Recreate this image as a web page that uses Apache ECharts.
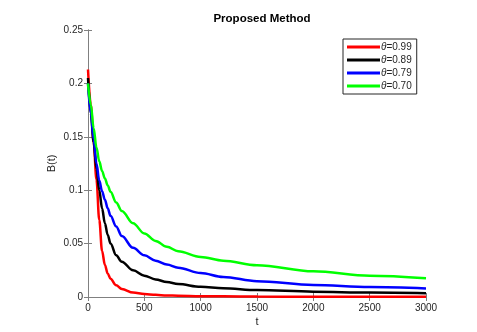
<!DOCTYPE html>
<html>
<head>
<meta charset="utf-8">
<script src="https://cdn.jsdelivr.net/npm/echarts@6/dist/echarts.min.js"></script>
<style>
  html, body { margin: 0; padding: 0; background: #fff; }
  #main { width: 477px; height: 332px; }
</style>
</head>
<body>
<div id="main"></div>
<script>
// sample times (t)
var tValues = [0, 25, 50, 75, 100, 125, 150, 175, 200, 250, 300, 400, 500, 600, 700, 800, 1000, 1200, 1500, 2000, 2500, 3000];

// B(t) per theta
var b099 = [0.213, 0.18, 0.145, 0.11, 0.072, 0.043, 0.03, 0.022, 0.017, 0.011, 0.0075, 0.0042, 0.0028, 0.002, 0.0015, 0.0012, 0.0008, 0.0006, 0.0004, 0.0003, 0.0002, 0.0002];
var b089 = [0.205, 0.172, 0.145, 0.12, 0.1, 0.083, 0.069, 0.058, 0.05, 0.039, 0.033, 0.025, 0.02, 0.0165, 0.014, 0.0122, 0.0095, 0.0082, 0.0065, 0.005, 0.0041, 0.0035];
var b079 = [0.2, 0.172, 0.148, 0.125, 0.109, 0.099, 0.091, 0.083, 0.076, 0.066, 0.057, 0.046, 0.039, 0.034, 0.0305, 0.0275, 0.0225, 0.0188, 0.0148, 0.0113, 0.0093, 0.008];
var b070 = [0.2, 0.18, 0.158, 0.14, 0.127, 0.118, 0.111, 0.1045, 0.0985, 0.0885, 0.0805, 0.069, 0.0595, 0.0525, 0.047, 0.0428, 0.0375, 0.034, 0.0298, 0.024, 0.0198, 0.0175];

var names = ['0.99', '0.89', '0.79', '0.70'];
var colors = ['#ff0000', '#000000', '#0000ff', '#00ff00'];
var xTicks = [0, 500, 1000, 1500, 2000, 2500, 3000];
var yTicks = [0, 0.05, 0.1, 0.15, 0.2, 0.25];

function pairs(vals) {
  return tValues.map(function (t, i) { return [t, vals[i]]; });
}

var myChart = echarts.init(document.getElementById('main'));
var fontFam = 'Liberation Sans, Arial, sans-serif';
var boxAxis = { lineStyle: { color: '#808080', width: 1 } };
var tickIn = { inside: true, length: 4, lineStyle: { color: '#808080' } };

myChart.setOption({
  animation: false,
  backgroundColor: '#fff',
  title: {
    text: 'Proposed Method',
    left: 257, top: 8, textAlign: 'center',
    textStyle: { fontFamily: fontFam, fontSize: 11.5, fontWeight: 'bold', color: '#000' }
  },
  grid: { left: 88, right: 51, top: 30, bottom: 35 },
  legend: {
    orient: 'vertical',
    left: 343, top: 39,
    itemWidth: 33, itemHeight: 3, itemGap: 3,
    icon: 'rect',
    borderColor: '#262626', borderWidth: 1,
    backgroundColor: '#fff',
    padding: [3, 5, 3, 4],
    textStyle: {
      fontFamily: fontFam, fontSize: 10, color: '#262626', padding: [0, 0, 0, -4],
      rich: { i: { fontStyle: 'italic', fontFamily: fontFam, fontSize: 10, color: '#262626' } }
    },
    formatter: function (n) { return '{i|θ}=' + n; },
    data: names
  },
  xAxis: [{
    type: 'value', min: 0, max: 3000, interval: 500,
    name: 't', nameLocation: 'middle', nameGap: 19, nameMoveOverlap: false,
    nameTextStyle: { fontFamily: fontFam, fontSize: 11, color: '#262626' },
    axisLine: boxAxis, axisTick: tickIn, splitLine: { show: false },
    axisLabel: { fontFamily: fontFam, fontSize: 10, color: '#262626', margin: 6,
      formatter: function (v) { return xTicks.indexOf(v) >= 0 ? String(v) : ''; } }
  }, {
    type: 'value', position: 'top', min: 0, max: 3000, interval: 500,
    axisLine: boxAxis, axisTick: tickIn, axisLabel: { show: false }, splitLine: { show: false }
  }],
  yAxis: [{
    type: 'value', min: 0, max: 0.25, interval: 0.05,
    name: 'B(t)', nameLocation: 'middle', nameGap: 31, nameMoveOverlap: false,
    nameTextStyle: { fontFamily: fontFam, fontSize: 11, color: '#262626' },
    axisLine: boxAxis, axisTick: tickIn, splitLine: { show: false },
    axisLabel: { fontFamily: fontFam, fontSize: 10, color: '#262626', margin: 5,
      formatter: function (v) {
        var r = Math.round(v * 100) / 100;
        return yTicks.indexOf(r) >= 0 ? String(r) : '';
      } }
  }, {
    type: 'value', position: 'right', min: 0, max: 0.25, interval: 0.05,
    axisLine: boxAxis, axisTick: tickIn, axisLabel: { show: false }, splitLine: { show: false }
  }],
  series: [b099, b089, b079, b070].map(function (vals, i) {
    return {
      name: names[i], type: 'line', data: pairs(vals),
      showSymbol: false, smooth: 0.35, smoothMonotone: 'x',
      lineStyle: { color: colors[i], width: 2.5 },
      itemStyle: { color: colors[i] }
    };
  })
});
</script>
</body>
</html>
